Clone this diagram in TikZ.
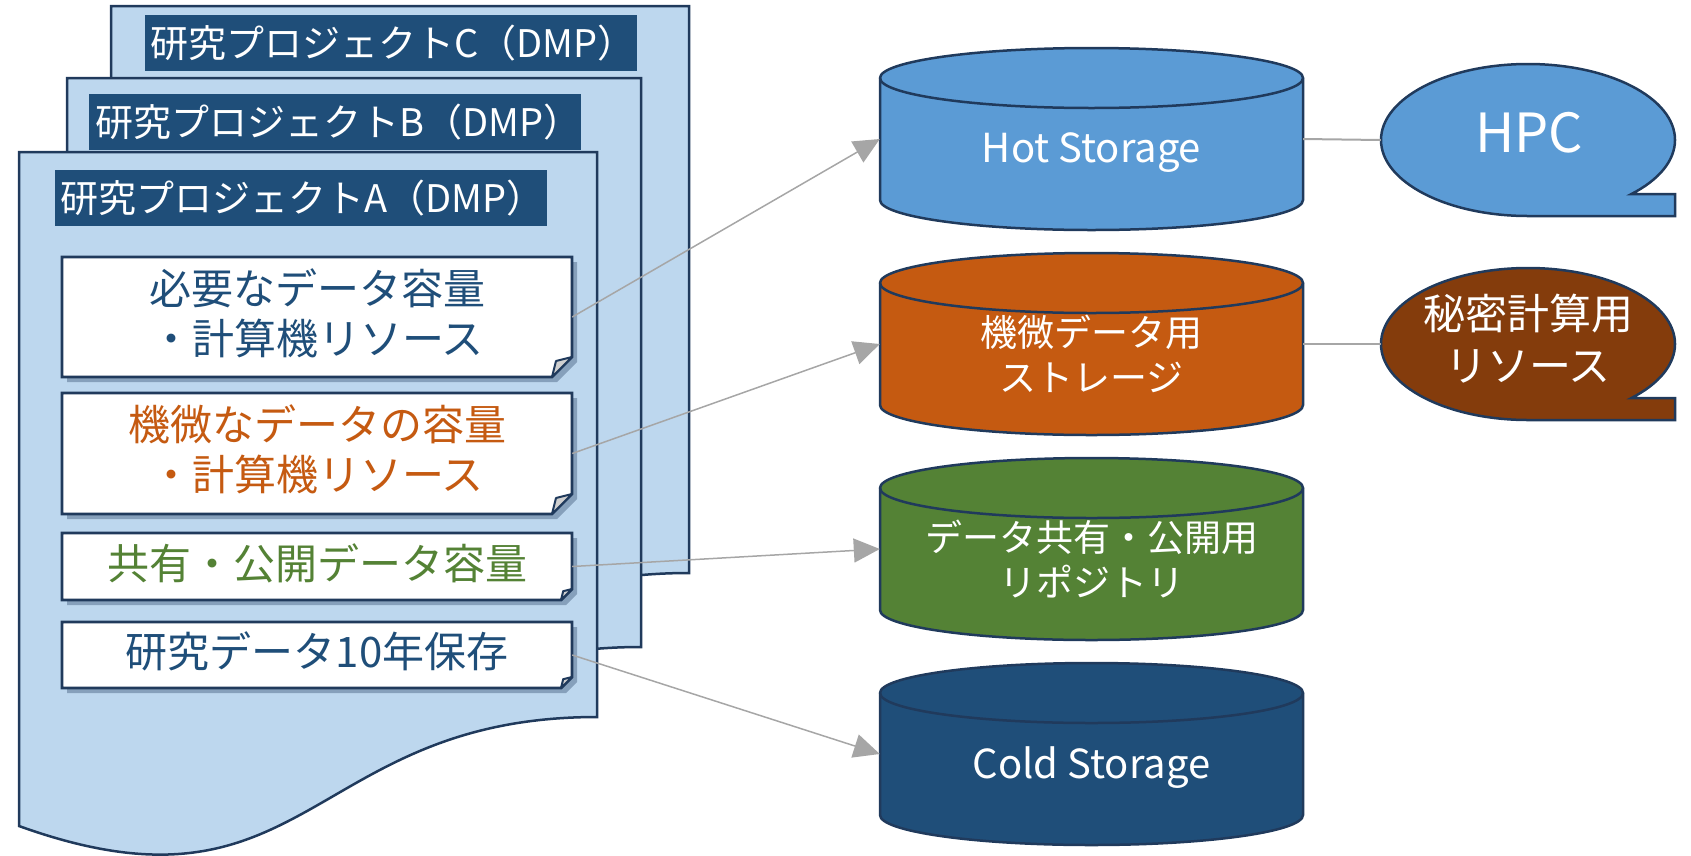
\documentclass[tikz,border=0pt]{standalone}
\usepackage{fontspec}
\setmainfont{Noto Sans CJK JP}
\usetikzlibrary{arrows.meta,shadows}
\definecolor{pagefill}{HTML}{BDD7EE}
\definecolor{navy}{HTML}{1F4E79}
\definecolor{edge}{HTML}{203A5C}
\definecolor{hotblue}{HTML}{5B9BD5}
\definecolor{orng}{HTML}{C55A11}
\definecolor{brwn}{HTML}{843C0C}
\definecolor{grn}{HTML}{548235}
\definecolor{arrowgray}{HTML}{A6A6A6}
\definecolor{foldgray}{HTML}{D0D0D0}

\newcommand\mycyl[2]{%
  \path[cylbody, fill=#2] (880,#1+30) -- (880,#1+152)
    arc[start angle=180,end angle=360,x radius=211.5pt,y radius=30pt]
    -- (1303,#1+30)
    arc[start angle=0,end angle=180,x radius=211.5pt,y radius=30pt] -- cycle;
  \draw[cylbody] (880,#1+30) arc[start angle=180,end angle=360,x radius=211.5pt,y radius=30pt];
}
\newcommand\mynote[5]{%
  \path[notebox] (#1,#2) -- (#3,#2) -- (#3,#4-#5) -- (#3-#5,#4) -- (#1,#4) -- cycle;
  \path[fold] (#3-#5,#4) -- (#3-0.8*#5,#4-0.8*#5) -- (#3,#4-#5) -- cycle;
}
\newcommand\mycallout[2]{%
  \path[callout, fill=#2] (1675,#1+54) -- (1675,#1+76) -- (1528,#1+76)
    arc[start angle=270,end angle=-45.3,x radius=147pt,y radius=76pt] -- cycle;
}

\begin{document}
\begin{tikzpicture}[x=1pt,y=-1pt,
  page/.style={fill=pagefill, draw=edge, line width=2.5pt, line join=miter},
  header/.style={fill=navy, anchor=north west, minimum width=492pt, minimum height=56pt, inner sep=0pt},
  headtext/.style={text=white, font=\fontsize{38}{44}\selectfont, anchor=west, inner sep=0pt},
  notebox/.style={fill=white, draw=edge, line width=2.8pt, line join=miter,
    drop shadow={shadow xshift=5pt, shadow yshift=-5pt, opacity=0.35, fill=edge}},
  fold/.style={fill=foldgray, draw=edge, line width=2pt, line join=round},
  notetext/.style={font=\fontsize{42}{50}\selectfont, align=center, inner sep=0pt, minimum width=510pt},
  cylbody/.style={draw=edge, line width=2.5pt},
  cylnode/.style={minimum width=423pt, minimum height=182pt, inner sep=0pt},
  cyltext/.style={text=white, font=\fontsize{37}{45}\selectfont, align=center, inner sep=0pt},
  cyllatin/.style={text=white, font=\fontsize{40}{45}\selectfont, inner sep=0pt},
  callout/.style={draw=edge, line width=2.5pt, line join=miter},
  callnode/.style={minimum width=294pt, minimum height=152pt, inner sep=0pt},
  arrowline/.style={draw=arrowgray, line width=1.5pt, -{Triangle[length=26pt,width=24pt]}},
  connline/.style={draw=arrowgray, line width=2pt}
]
\useasboundingbox (0,0) rectangle (1691,855);

% pages
\path[page] (111,6) -- (689,6) -- (689,573) .. controls (400,573) and (400,784) .. (111,680) -- cycle;
\node[header] (hdrC) at (145,15) {};
\node[headtext] (tC) at ([xshift=5pt]hdrC.west) {研究プロジェクトC（DMP）};

\path[page] (67,78) -- (641,78) -- (641,647) .. controls (354,647) and (354,856) .. (67,752) -- cycle;
\node[header] (hdrB) at (89,94) {};
\node[headtext] (tB) at ([xshift=6pt]hdrB.west) {研究プロジェクトB（DMP）};

\path[page] (19,152) -- (597,152) -- (597,717) .. controls (308,717) and (308,930) .. (19,826) -- cycle;
\node[header] (hdrA) at (55,170) {};
\node[headtext] (tA) at ([xshift=5pt]hdrA.west) {研究プロジェクトA（DMP）};

% note boxes
\mynote{62}{257}{572}{377}{20}
\mynote{62}{393}{572}{514}{20}
\mynote{62}{533}{572}{600}{11}
\mynote{62}{622}{572}{688}{11}
\node[notetext, text=navy, minimum height=120pt] (b1) at (317,317) {};
\node[notetext, text=orng, minimum height=121pt] (b2) at (317,453.5) {};
\node[notetext, text=grn, minimum height=67pt] (b3) at (317,566.5) {};
\node[notetext, text=navy, minimum height=66pt] (b4) at (317,655) {};
\node[notetext, text=navy] (b1T) at (317,313) {必要なデータ容量\\・計算機リソース};
\node[notetext, text=orng] (b2T) at (317,449.5) {機微なデータの容量\\・計算機リソース};
\node[notetext, text=grn] (b3T) at (317,563) {共有・公開データ容量};
\node[notetext, text=navy] (b4T) at (317,651.5) {研究データ10年保存};

% cylinders
\mycyl{48}{hotblue}
\mycyl{253}{orng}
\mycyl{458}{grn}
\mycyl{663}{navy}
\node[cylnode] (hot) at (1091.5,139) {};
\node[cylnode] (sens) at (1091.5,344) {};
\node[cylnode] (repo) at (1091.5,549) {};
\node[cylnode] (cold) at (1091.5,754) {};
\node[cyllatin] (hotT) at (1091.5,153) {Hot Storage};
\node[cyltext] (sensT) at (1091.5,354) {機微データ用\\ストレージ};
\node[cyltext] (repoT) at (1091.5,559) {データ共有・公開用\\リポジトリ};
\node[cyllatin] (coldT) at (1091.5,768) {Cold Storage};

% callouts
\mycallout{140}{hotblue}
\mycallout{344}{brwn}
\node[callnode] (hpc) at (1528,140) {};
\node[callnode] (sec) at (1528,344) {};
\node[text=white, font=\fontsize{54}{60}\selectfont, inner sep=0pt] (hpcT) at (1529,133) {HPC};
\node[text=white, font=\fontsize{42}{52}\selectfont, align=center, inner sep=0pt] (secT) at (1528,339) {秘密計算用\\リソース};

% connectors
\draw[arrowline] (b1.east) -- (hot.west);
\draw[arrowline] (b2.east) -- (sens.west);
\draw[arrowline] (b3.east) -- (repo.west);
\draw[arrowline] (b4.east) -- (cold.west);
\draw[connline] (hot.east) -- (hpc.west);
\draw[connline] (sens.east) -- (sec.west);
\end{tikzpicture}
\end{document}
